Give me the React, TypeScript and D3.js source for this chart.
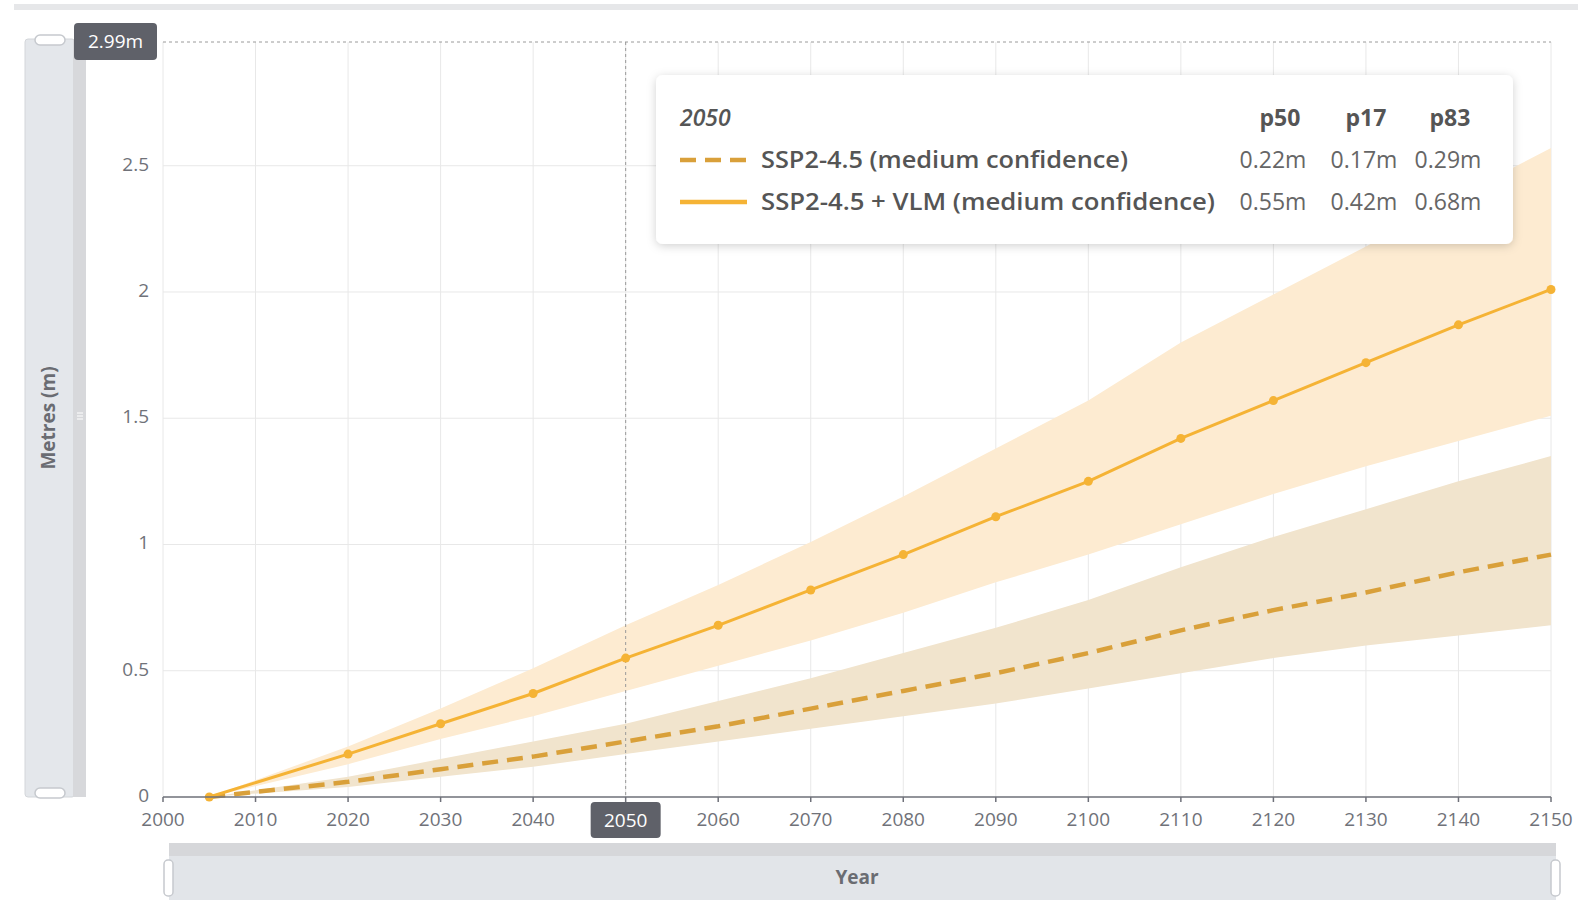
import React from 'react';
import * as d3 from 'd3';

const years = [2005, 2020, 2030, 2040, 2050, 2060, 2070, 2080, 2090, 2100, 2110, 2120, 2130, 2140, 2150];
const vlmP50 = [0, 0.17, 0.29, 0.41, 0.55, 0.68, 0.82, 0.96, 1.11, 1.25, 1.42, 1.57, 1.72, 1.87, 2.01];
const vlmP17 = [0, 0.13, 0.23, 0.32, 0.42, 0.52, 0.62, 0.73, 0.85, 0.96, 1.08, 1.2, 1.31, 1.41, 1.51];
const vlmP83 = [0, 0.2, 0.35, 0.51, 0.68, 0.84, 1.01, 1.19, 1.38, 1.57, 1.8, 1.99, 2.18, 2.38, 2.57];
const sspP50 = [0, 0.06, 0.11, 0.16, 0.22, 0.28, 0.35, 0.42, 0.49, 0.57, 0.66, 0.74, 0.81, 0.89, 0.96];
const sspP17 = [0, 0.04, 0.08, 0.12, 0.17, 0.22, 0.27, 0.32, 0.37, 0.43, 0.49, 0.55, 0.6, 0.64, 0.68];
const sspP83 = [0, 0.08, 0.15, 0.22, 0.29, 0.38, 0.47, 0.57, 0.67, 0.78, 0.91, 1.03, 1.14, 1.25, 1.35];

const xTickValues = [2000, 2010, 2020, 2030, 2040, 2050, 2060, 2070, 2080, 2090, 2100, 2110, 2120, 2130, 2140, 2150];
const yTickValues = [0, 0.5, 1, 1.5, 2, 2.5];
const yMax = 2.99;
const hoverYear = 2050;

const seriesNames = ['SSP2-4.5 (medium confidence)', 'SSP2-4.5 + VLM (medium confidence)'];
const colHeaders = ['p50', 'p17', 'p83'];

const FONT = '"Open Sans", "Noto Sans", sans-serif';
const AXIS_COL = '#6e7079';
const SOLID = '#f5b335';
const DASHED = '#d9a03a';
const BAND_LIGHT = '#fdebd1';
const BAND_DARK = '#f1e4cd';

export default function App() {
  const x = d3.scaleLinear().domain([2000, 2150]).range([163, 1551]);
  const y = d3.scaleLinear().domain([0, yMax]).range([797, 42]);

  const idx = years.map((_, i) => i);
  const area = (lo: number[], hi: number[]) =>
    d3.area<number>().x(i => x(years[i])).y0(i => y(lo[i])).y1(i => y(hi[i]))(idx) || '';
  const line = (v: number[]) => d3.line<number>().x(i => x(years[i])).y(i => y(v[i]))(idx) || '';

  const hi = years.indexOf(hoverYear);
  const fmt = (v: number) => v.toFixed(2) + 'm';
  const rows = [
    { name: seriesNames[0], vals: [sspP50[hi], sspP17[hi], sspP83[hi]], dashed: true, w: 367 },
    { name: seriesNames[1], vals: [vlmP50[hi], vlmP17[hi], vlmP83[hi]], dashed: false, w: 454 },
  ];
  const headerX = [1280, 1366, 1450];
  const valX = [1273, 1364, 1448];

  return (
    <div style={{ position: 'absolute', left: 0, top: 0, width: 1578, height: 900, background: '#fff' }}>
      <svg width={1578} height={900} style={{ display: 'block', fontFamily: FONT }}>
        <defs>
          <filter id="shadow" x="-10%" y="-20%" width="120%" height="150%">
            <feDropShadow dx="0" dy="2" stdDeviation="5" floodColor="#000" floodOpacity="0.18" />
          </filter>
        </defs>
        {/* top bar */}
        <rect x={14} y={4} width={1564} height={6} fill="#e6e7e9" />

        {/* grid */}
        {xTickValues.map(t => (
          <line key={'gx' + t} x1={x(t)} x2={x(t)} y1={y(yMax)} y2={y(0)} stroke="#e8e8e8" strokeWidth={1} />
        ))}
        {yTickValues.filter(t => t > 0).map(t => (
          <line key={'gy' + t} x1={x(2000)} x2={x(2150)} y1={y(t)} y2={y(t)} stroke="#e8e8e8" strokeWidth={1} />
        ))}

        {/* bands */}
        <path d={area(vlmP17, vlmP83)} fill={BAND_LIGHT} />
        <path d={area(sspP17, sspP83)} fill={BAND_DARK} />

        {/* crosshair */}
        <line x1={x(hoverYear)} x2={x(hoverYear)} y1={y(yMax)} y2={y(0)} stroke="#9a9a9a" strokeWidth={1} strokeDasharray="3 3" />
        <line x1={x(2000)} x2={x(2150)} y1={y(yMax)} y2={y(yMax)} stroke="#9a9a9a" strokeWidth={1} strokeDasharray="3 3" />

        {/* lines */}
        <path d={line(sspP50)} fill="none" stroke={DASHED} strokeWidth={4.5} strokeDasharray="16 9" />
        <path d={line(vlmP50)} fill="none" stroke={SOLID} strokeWidth={3} />
        {years.map((yr, i) => (
          <circle key={'d' + yr} cx={x(yr)} cy={y(vlmP50[i])} r={4.5} fill={SOLID} />
        ))}

        {/* x axis */}
        <line x1={x(2000)} x2={x(2150)} y1={y(0)} y2={y(0)} stroke={AXIS_COL} strokeWidth={1.5} />
        {xTickValues.map(t => (
          <g key={'xt' + t}>
            <line x1={x(t)} x2={x(t)} y1={y(0)} y2={y(0) + 5} stroke={AXIS_COL} strokeWidth={1.5} />
            {t !== hoverYear && (
              <text x={x(t)} y={826} textAnchor="middle" fontSize={19} fill="#707279">{t}</text>
            )}
          </g>
        ))}
        <rect x={x(hoverYear) - 35} y={802} width={70} height={36} rx={4} fill="#5f6169" />
        <text x={x(hoverYear)} y={827} textAnchor="middle" fontSize={19} fill="#fff">{hoverYear}</text>

        {/* y axis labels */}
        {yTickValues.map(t => (
          <text key={'yt' + t} x={149} y={y(t) + 5} textAnchor="end" fontSize={19} fill="#707279">{t}</text>
        ))}

        {/* y slider */}
        <rect x={25} y={39} width={50} height={758} rx={3} fill="#e4e7eb" stroke="#d3d6da" strokeWidth={1} />
        <rect x={73} y={39} width={13} height={758} fill="#d7d8db" />
        <rect x={35} y={35} width={30} height={10} rx={5} fill="#fff" stroke="#c6c9ce" strokeWidth={1.5} />
        <rect x={35} y={788} width={30} height={10} rx={5} fill="#fff" stroke="#c6c9ce" strokeWidth={1.5} />
        <g stroke="#fff" strokeWidth={1}>
          <line x1={77} x2={83} y1={413} y2={413} />
          <line x1={77} x2={83} y1={416} y2={416} />
          <line x1={77} x2={83} y1={419} y2={419} />
        </g>
        <text transform="translate(55,418) rotate(-90)" textAnchor="middle" fontSize={19} fontWeight={700} fill="#6a6c72">Metres (m)</text>

        {/* y pointer label */}
        <rect x={74} y={23} width={83} height={37} rx={4} fill="#5f6169" />
        <text x={115.5} y={48} textAnchor="middle" fontSize={19} fill="#fff">{yMax.toFixed(2)}m</text>

        {/* bottom slider */}
        <rect x={169} y={843} width={1387} height={60} fill="#e2e5e9" />
        <rect x={169} y={843} width={1387} height={13} fill="#d6d7da" />
        <rect x={164} y={860} width={9} height={36} rx={4} fill="#fff" stroke="#c6c9ce" strokeWidth={1.5} />
        <rect x={1551} y={860} width={9} height={36} rx={4} fill="#fff" stroke="#c6c9ce" strokeWidth={1.5} />
        <text x={857} y={884} textAnchor="middle" fontSize={19} fontWeight={700} fill="#6a6c72">Year</text>

        {/* tooltip */}
        <rect x={656} y={75} width={857} height={169} rx={7} fill="#fff" filter="url(#shadow)" />
        <text x={680} y={126} fontSize={23} fontStyle="italic" fontWeight={600} fill="#555">{hoverYear}</text>
        {colHeaders.map((h, j) => (
          <text key={h} x={headerX[j]} y={126} textAnchor="middle" fontSize={23} fontWeight={700} fill="#555">{h}</text>
        ))}
        {rows.map((r, i) => {
          const cy = 160 + i * 42;
          return (
            <g key={r.name}>
              <line x1={680} x2={747} y1={cy} y2={cy} stroke={r.dashed ? DASHED : SOLID} strokeWidth={4.5}
                strokeDasharray={r.dashed ? '16 9' : undefined} />
              <text x={761} y={cy + 8} fontSize={23} fontWeight={600} fill="#555"
                textLength={r.w} lengthAdjust="spacingAndGlyphs">{r.name}</text>
              {r.vals.map((v, j) => (
                <text key={j} x={valX[j]} y={cy + 8} textAnchor="middle" fontSize={23} fill="#666">{fmt(v)}</text>
              ))}
            </g>
          );
        })}
      </svg>
    </div>
  );
}
